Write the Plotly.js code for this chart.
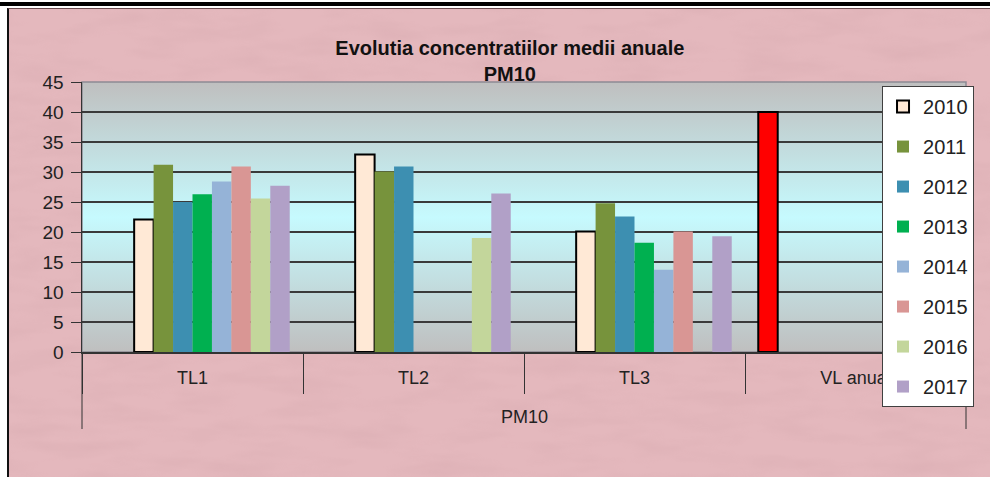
<!DOCTYPE html>
<html>
<head>
<meta charset="utf-8">
<script src="https://cdn.plot.ly/plotly-3.0.1.min.js"></script>
<style>
  html, body { margin: 0; padding: 0; background: #ffffff; }
  #wrap { position: relative; width: 990px; height: 477px; overflow: hidden; }
  #band { position: absolute; left: 0; top: 2px; width: 990px; height: 4px; background: #000; }
  #pink { position: absolute; left: 7px; top: 8px; right: 0; bottom: 0;
          background-color: #e4b8bd; border-left: 2px solid #111; border-top: 1px solid #6a4a4e; }
  #tex { position: absolute; left: 9px; top: 9px; right: 0; bottom: 0; opacity: 0.22; }
  #chart { position: absolute; left: 0; top: 0; width: 990px; height: 477px; }
</style>
</head>
<body>
<div id="wrap">
  <div id="band"></div>
  <div id="pink"></div>
  <svg id="tex" width="981" height="468" xmlns="http://www.w3.org/2000/svg">
    <filter id="n">
      <feTurbulence type="fractalNoise" baseFrequency="0.015 0.06" numOctaves="3" seed="4"/>
      <feColorMatrix type="matrix" values="0 0 0 0 0.55  0 0 0 0 0.3  0 0 0 0 0.33  0 0 0 1.4 -0.55"/>
    </filter>
    <rect width="981" height="468" filter="url(#n)"/>
  </svg>
  <div id="chart"></div>
</div>
<script>
// ---- data ----
const outerLabel = "PM10";
const categories = ["TL1", "TL2", "TL3", "VL anual"];
const years = ["2010", "2011", "2012", "2013", "2014", "2015", "2016", "2017"];
const values2010 = [22.1, 32.9, 20.1, null];
const values2011 = [31.2, 30.1, 24.8, null];
const values2012 = [25.0, 30.9, 22.6, null];
const values2013 = [26.3, null, 18.2, null];
const values2014 = [28.4, null, 13.7, null];
const values2015 = [30.9, null, 20.1, null];
const values2016 = [25.6, 19.0, null, null];
const values2017 = [27.7, 26.4, 19.3, null];
const limitValues = [null, null, null, 40];   // VL anual (limit value)
const emptySlot = [null, null, null, null];
const yTicks = [0, 5, 10, 15, 20, 25, 30, 35, 40, 45];

const seriesValues = [values2010, values2011, values2012, values2013,
                      values2014, values2015, values2016, values2017];
const colors = ["#ffe9d6", "#77933c", "#3d8fb1", "#00b050",
                "#95b3d7", "#d99694", "#c3d69b", "#b1a0c7"];

const FONT = "Liberation Sans, Arial, sans-serif";

const traces = [];
traces.push({
  type: "bar", x: categories, y: limitValues, name: "VL", showlegend: false,
  marker: { color: "#ff0000", line: { color: "#000000", width: 2 } }
});
traces.push({
  type: "bar", x: categories, y: emptySlot, name: "", showlegend: false,
  marker: { color: "rgba(0,0,0,0)" }
});
years.forEach((yr, i) => {
  traces.push({
    type: "bar", x: categories, y: seriesValues[i], name: yr, legendgroup: yr,
    marker: { color: colors[i],
              line: { color: "#000000", width: i === 0 ? 2 : 0 } }
  });
});

const svg = "<svg xmlns='http://www.w3.org/2000/svg' width='100' height='100' preserveAspectRatio='none'>" +
  "<defs><linearGradient id='g' x1='0' y1='0' x2='0' y2='1'>" +
  "<stop offset='0' stop-color='#bfbfbf'/>" +
  "<stop offset='0.5' stop-color='#c6fafe'/>" +
  "<stop offset='1' stop-color='#bfbfbf'/>" +
  "</linearGradient></defs><rect width='100' height='100' fill='url(#g)'/></svg>";
const gradURI = "data:image/svg+xml;charset=utf-8," + encodeURIComponent(svg);

const plotH = 477 - 82 - 125;

const layout = {
  width: 990, height: 477,
  margin: { l: 82, r: 24, t: 82, b: 125 },
  paper_bgcolor: "rgba(0,0,0,0)",
  plot_bgcolor: "rgba(0,0,0,0)",
  font: { family: FONT, color: "#222222", size: 18 },
  title: {
    text: "<b>Evolutia concentratiilor medii anuale<br>PM10</b>",
    font: { family: FONT, size: 20, color: "#111111" },
    x: 0.515, xanchor: "center", xref: "container",
    y: 0.885, yanchor: "top", yref: "container"
  },
  barmode: "group",
  bargap: 0.12,
  bargroupgap: 0,
  xaxis: {
    type: "category",
    showline: true, linecolor: "#333333", linewidth: 1.5,
    ticks: "outside", tickson: "boundaries", ticklen: 40, tickcolor: "#333333", tickwidth: 1,
    ticklabelstandoff: 9,
    tickfont: { family: FONT, size: 18, color: "#222222" },
    showgrid: false
  },
  yaxis: {
    range: [0, 45], tickvals: yTicks, ticktext: yTicks.map(String),
    showline: true, linecolor: "#333333", linewidth: 1.5,
    ticks: "outside", ticklen: 10, tickcolor: "#333333",
    ticklabelstandoff: 3,
    showgrid: true, gridcolor: "#3a3a3a", gridwidth: 1.5,
    zeroline: false,
    tickfont: { family: FONT, size: 19, color: "#222222" }
  },
  legend: {
    x: 0.905, xanchor: "left", y: 0.985, yanchor: "top",
    bgcolor: "#ffffff", bordercolor: "#404040", borderwidth: 1,
    font: { family: FONT, size: 20, color: "#222222" },
    tracegroupgap: 11, traceorder: "grouped", maxheight: 420
  },
  annotations: [{
    text: outerLabel, xref: "paper", yref: "paper", x: 0.5, y: -(417 - 352) / plotH,
    xanchor: "center", yanchor: "middle", showarrow: false,
    font: { family: FONT, size: 18, color: "#222222" }
  }],
  images: [{
    source: gradURI, xref: "paper", yref: "paper", x: 0, y: 1,
    sizex: 1, sizey: 1, sizing: "stretch", layer: "below", xanchor: "left", yanchor: "top"
  }],
  shapes: [
    { type: "rect", xref: "paper", yref: "paper", x0: 0, x1: 1, y0: 0, y1: 1,
      line: { color: "#8d8a94", width: 1.5 }, layer: "below" },
    { type: "line", xref: "paper", yref: "paper", x0: 0, x1: 0, y0: 0, y1: -(429 - 352) / plotH,
      line: { color: "#333333", width: 1 } },
    { type: "line", xref: "paper", yref: "paper", x0: 1, x1: 1, y0: 0, y1: -(429 - 352) / plotH,
      line: { color: "#333333", width: 1 } }
  ]
};

Plotly.newPlot("chart", traces, layout, { displayModeBar: false, staticPlot: true });
</script>
</body>
</html>
